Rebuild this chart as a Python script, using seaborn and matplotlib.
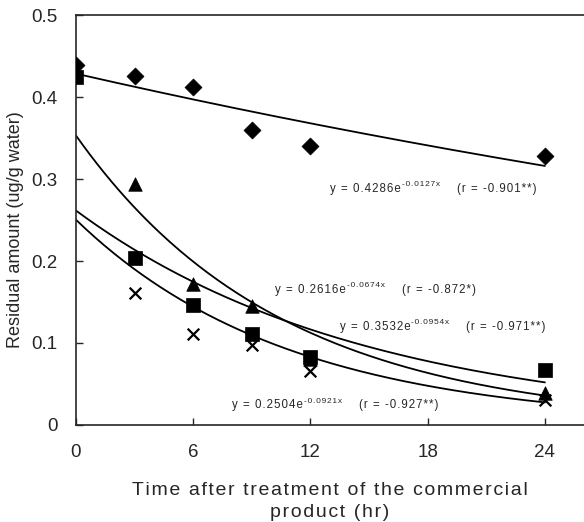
import numpy as np
import pandas as pd
import matplotlib
matplotlib.use("Agg")
import matplotlib.pyplot as plt
import seaborn as sns

sns.set_style("ticks")
plt.rcParams["font.family"] = ["Liberation Sans", "DejaVu Sans"]

# Sampling times (hr)
hours = [0, 3, 6, 9, 12, 24]

# Residual amounts (ug/g water) for each treatment
diamond_vals = [0.439, 0.426, 0.412, 0.360, 0.340, 0.328]
triangle_vals = [0.430, 0.294, 0.172, 0.145, 0.080, 0.039]
square_vals = [0.425, 0.204, 0.146, 0.111, 0.083, 0.067]
cross_vals = [0.425, 0.161, 0.111, 0.098, 0.066, 0.030]

# Exponential fits y = a * exp(b x)
fit_a = [0.4286, 0.2616, 0.3532, 0.2504]
fit_b = [-0.0127, -0.0674, -0.0954, -0.0921]
fit_r = ["-0.901**", "-0.872*", "-0.971**", "-0.927**"]

x_ticks = [0, 6, 12, 18, 24]
y_ticks = [0, 0.1, 0.2, 0.3, 0.4, 0.5]
y_ticklabels = ["0", "0.1", "0.2", "0.3", "0.4", "0.5"]

HAIR = "\u200a"


def track(s, sep=HAIR):
    """Loosen letter spacing by inserting hair spaces between characters."""
    return sep.join(s)


fig = plt.figure(figsize=(5.84, 5.22), dpi=100)
ax = fig.add_axes([0.130, 0.186, 0.870, 0.785])

# Fitted decay curves
xs = np.linspace(0, 24, 200)
curves = pd.concat(
    [pd.DataFrame({"x": xs, "y": a * np.exp(b * xs), "fit": i})
     for i, (a, b) in enumerate(zip(fit_a, fit_b))]
)
sns.lineplot(data=curves, x="x", y="y", units="fit", estimator=None,
             color="black", linewidth=1.3, ax=ax, legend=False)

# Observed points
obs = pd.DataFrame({
    "hr": hours * 4,
    "amount": cross_vals + triangle_vals + square_vals + diamond_vals,
    "group": ["x"] * 6 + ["tri"] * 6 + ["sq"] * 6 + ["dia"] * 6,
})
markers = {"x": "x", "tri": "^", "sq": "s", "dia": "D"}
sizes = {"x": 70, "tri": 95, "sq": 95, "dia": 75}
for g in ["x", "tri", "sq", "dia"]:
    sub = obs[obs["group"] == g]
    sns.scatterplot(data=sub, x="hr", y="amount", marker=markers[g],
                    s=sizes[g], color="black", edgecolor="black",
                    linewidth=1.6 if g == "x" else 0.5, ax=ax, zorder=3,
                    legend=False)

ax.set_xlim(0, 26)
ax.set_ylim(0, 0.5)
ax.set_xticks(x_ticks)
ax.set_yticks(y_ticks)
ax.set_xticklabels([str(t) for t in x_ticks], fontsize=13.5)
ax.set_yticklabels(y_ticklabels, fontsize=13.5)
ax.tick_params(axis="x", direction="in", length=5, width=1, pad=14)
ax.tick_params(axis="y", direction="in", length=5, width=1, pad=13)
ax.spines["right"].set_visible(False)
for s in ["left", "bottom", "top"]:
    ax.spines[s].set_linewidth(1.2)

ax.set_xlabel(track("Time after treatment of the commercial") + "\n"
              + track("product (hr)"),
              fontsize=14, linespacing=1.4, labelpad=15)
ax.set_ylabel("Residual amount (ug/g water)", fontsize=13)
ax.yaxis.set_label_coords(-0.103, 0.476)

# Equation labels: base text, raised exponent, then correlation
label_pos = [(13.0, 0.288), (10.2, 0.165), (13.5, 0.120), (8.0, 0.024)]
renderer = fig.canvas.get_renderer()
for i, (px, py) in enumerate(label_pos):
    base = ax.text(px, py, track("y = %.4fe" % fit_a[i]), fontsize=8.3,
                   va="center", ha="left")
    w1 = base.get_window_extent(renderer).width
    sup = ax.annotate(track("%.4fx" % fit_b[i]), xy=(px, py),
                      xytext=(w1 + 1, 4), textcoords="offset pixels",
                      fontsize=6, va="center", ha="left")
    w2 = sup.get_window_extent(renderer).width
    ax.annotate(track("(r = %s)" % fit_r[i]), xy=(px, py),
                xytext=(w1 + w2 + 18, 0), textcoords="offset pixels",
                fontsize=8.3, va="center", ha="left")

fig.savefig("out.png", dpi=100)
